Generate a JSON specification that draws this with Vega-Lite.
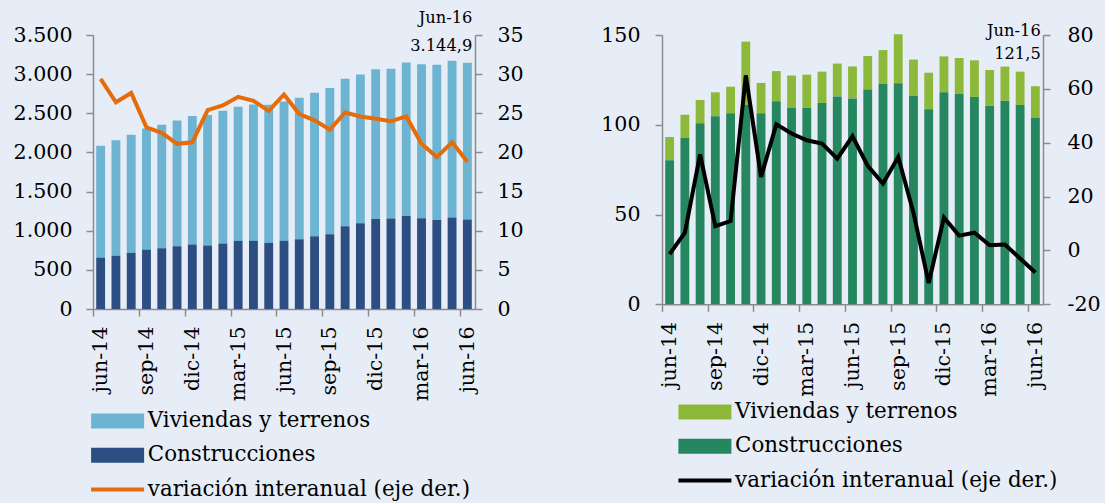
{
  "$schema": "https://vega.github.io/schema/vega-lite/v6.json",
  "background": "#E7EDF6",
  "padding": {"left": 13, "top": 9, "right": 5, "bottom": 2},
  "config": {
    "locale": {"number": {"decimal": ",", "thousands": ".", "grouping": [3], "currency": ["", " €"], "minus": "-"}},
    "font": "DejaVu Serif",
    "view": {"stroke": null},
    "axis": {
      "labelFont": "DejaVu Serif", "labelFontSize": 20.6, "labelColor": "#000",
      "domainColor": "#8C8C8C", "tickColor": "#8C8C8C", "domainWidth": 1.5, "tickWidth": 1.5,
      "grid": false, "title": null, "tickSize": 7, "labelPadding": 14
    },
    "legend": {
      "labelFont": "DejaVu Serif", "labelFontSize": 21.4, "labelColor": "#000", "labelLimit": 0,
      "labelOffset": 19.5, "rowPadding": 11.3, "title": null, "direction": "vertical", "orient": "none",
      "symbolSize": 100, "symbolOffset": 0
    }
  },
  "datasets": {
    "izq": [
      {"mes": "jun-14", "constr": 657, "viv": 1428, "var": 29.4},
      {"mes": "jul-14", "constr": 682, "viv": 1475, "var": 26.4},
      {"mes": "ago-14", "constr": 716, "viv": 1509, "var": 27.6},
      {"mes": "sep-14", "constr": 759, "viv": 1547, "var": 23.2},
      {"mes": "oct-14", "constr": 776, "viv": 1577, "var": 22.5},
      {"mes": "nov-14", "constr": 801, "viv": 1608, "var": 21.1},
      {"mes": "dic-14", "constr": 823, "viv": 1641, "var": 21.3},
      {"mes": "ene-15", "constr": 810, "viv": 1667, "var": 25.4},
      {"mes": "feb-15", "constr": 836, "viv": 1696, "var": 26.0},
      {"mes": "mar-15", "constr": 870, "viv": 1713, "var": 27.1},
      {"mes": "abr-15", "constr": 870, "viv": 1743, "var": 26.6},
      {"mes": "may-15", "constr": 844, "viv": 1765, "var": 25.3},
      {"mes": "jun-15", "constr": 870, "viv": 1782, "var": 27.4},
      {"mes": "jul-15", "constr": 891, "viv": 1807, "var": 24.9},
      {"mes": "ago-15", "constr": 929, "viv": 1833, "var": 24.1},
      {"mes": "sep-15", "constr": 955, "viv": 1867, "var": 22.9},
      {"mes": "oct-15", "constr": 1057, "viv": 1884, "var": 25.1},
      {"mes": "nov-15", "constr": 1096, "viv": 1901, "var": 24.6},
      {"mes": "dic-15", "constr": 1151, "viv": 1910, "var": 24.3},
      {"mes": "ene-16", "constr": 1155, "viv": 1914, "var": 24.0},
      {"mes": "feb-16", "constr": 1189, "viv": 1961, "var": 24.6},
      {"mes": "mar-16", "constr": 1160, "viv": 1965, "var": 21.1},
      {"mes": "abr-16", "constr": 1138, "viv": 1982, "var": 19.4},
      {"mes": "may-16", "constr": 1168, "viv": 2004, "var": 21.3},
      {"mes": "jun-16", "constr": 1143, "viv": 2001.9, "var": 18.8}
    ],
    "der": [
      {"mes": "jun-14", "constr": 80.2, "viv": 13.0, "var": -1.4},
      {"mes": "jul-14", "constr": 92.6, "viv": 13.0, "var": 6.6},
      {"mes": "ago-14", "constr": 100.8, "viv": 13.0, "var": 35.7},
      {"mes": "sep-14", "constr": 104.7, "viv": 13.4, "var": 9.0},
      {"mes": "oct-14", "constr": 106.4, "viv": 14.8, "var": 10.9},
      {"mes": "nov-14", "constr": 111.0, "viv": 35.3, "var": 65.0},
      {"mes": "dic-14", "constr": 106.4, "viv": 16.9, "var": 27.3},
      {"mes": "ene-15", "constr": 113.1, "viv": 16.8, "var": 46.8},
      {"mes": "feb-15", "constr": 109.3, "viv": 18.2, "var": 43.4},
      {"mes": "mar-15", "constr": 109.5, "viv": 18.4, "var": 40.9},
      {"mes": "abr-15", "constr": 112.1, "viv": 17.5, "var": 39.7},
      {"mes": "may-15", "constr": 115.8, "viv": 18.3, "var": 34.1},
      {"mes": "jun-15", "constr": 114.7, "viv": 17.8, "var": 42.4},
      {"mes": "jul-15", "constr": 119.6, "viv": 18.7, "var": 31.4},
      {"mes": "ago-15", "constr": 122.7, "viv": 18.9, "var": 24.8},
      {"mes": "sep-15", "constr": 123.1, "viv": 27.3, "var": 34.7},
      {"mes": "oct-15", "constr": 116.2, "viv": 20.1, "var": 14.0},
      {"mes": "nov-15", "constr": 108.6, "viv": 20.4, "var": -12.1},
      {"mes": "dic-15", "constr": 118.1, "viv": 20.0, "var": 12.2},
      {"mes": "ene-16", "constr": 117.1, "viv": 20.1, "var": 5.5},
      {"mes": "feb-16", "constr": 115.5, "viv": 20.4, "var": 6.6},
      {"mes": "mar-16", "constr": 110.5, "viv": 20.0, "var": 1.9},
      {"mes": "abr-16", "constr": 113.4, "viv": 19.0, "var": 2.2},
      {"mes": "may-16", "constr": 111.0, "viv": 18.6, "var": -3.0},
      {"mes": "jun-16", "constr": 104.1, "viv": 17.4, "var": -8.2}
    ],
    "notaIzq": [{"mes": "jun-16", "valor": 3144.9, "etiqueta": "Jun-16|3.144,9"}],
    "notaDer": [{"mes": "jun-16", "valor": 121.5, "etiqueta": "Jun-16|121,5"}]
  },
  "bounds": "flush",
  "spacing": 187,
  "hconcat": [
    {
      "width": 382,
      "height": 274,
      "layer": [
        {
          "data": {"name": "izq"},
          "transform": [{"fold": ["viv", "constr"], "as": ["serie", "valor"]}],
          "mark": {"type": "bar"},
          "encoding": {
            "x": {"field": "mes", "type": "ordinal", "sort": null,
              "scale": {"paddingInner": 0.42, "paddingOuter": 0.21},
              "axis": {"values": ["jun-14","sep-14","dic-14","mar-15","jun-15","sep-15","dic-15","mar-16","jun-16"],
                "labelAngle": -90, "tickOffset": -7.64, "labelOffset": 7.64, "labelPadding": 10}},
            "y": {"field": "valor", "type": "quantitative", "stack": "zero",
              "scale": {"domain": [0, 3500]},
              "axis": {"orient": "left", "values": [0,500,1000,1500,2000,2500,3000,3500], "format": ",d"}},
            "color": {"field": "serie", "type": "nominal",
              "scale": {"domain": ["viv", "constr", "var"], "range": ["#6CB4D1", "#2D4E82", "#E46C0A"]},
              "legend": {
                "legendX": 13.9, "legendY": 375.3,
                "labelExpr": "datum.value === 'viv' ? 'Viviendas y terrenos' : datum.value === 'constr' ? 'Construcciones' : 'variación interanual (eje der.)'",
                "symbolType": "M-5.3,-1.5L5.3,-1.5L5.3,1.5L-5.3,1.5Z",
                "encode": {"symbols": {"update": {
                  "shape": {"signal": "datum.value === 'var' ? 'M-5.3,0L5.3,0' : 'M-5.3,-1.5L5.3,-1.5L5.3,1.5L-5.3,1.5Z'"},
                  "stroke": {"signal": "datum.value === 'var' ? '#E46C0A' : 'transparent'"},
                  "strokeWidth": {"signal": "datum.value === 'var' ? 4 : 0"}
                }}}
              }},
            "order": {"field": "serie", "sort": "ascending"}
          }
        },
        {
          "data": {"name": "izq"},
          "mark": {"type": "line", "strokeWidth": 4},
          "encoding": {
            "x": {"field": "mes", "type": "ordinal", "sort": null},
            "y": {"field": "var", "type": "quantitative", "scale": {"domain": [0, 35]},
              "axis": {"orient": "right", "values": [0,5,10,15,20,25,30,35], "labelPadding": 15}},
            "color": {"datum": "var"}
          }
        },
        {
          "data": {"name": "notaIzq"},
          "mark": {"type": "text", "align": "right", "baseline": "bottom", "lineBreak": "|",
            "fontSize": 16.3, "lineHeight": 28, "dx": 5, "dy": -37, "font": "DejaVu Serif", "color": "#000"},
          "encoding": {
            "x": {"field": "mes", "type": "ordinal", "sort": null},
            "y": {"field": "valor", "type": "quantitative", "scale": {"domain": [0, 3500]}, "axis": null},
            "text": {"field": "etiqueta"}
          }
        }
      ],
      "resolve": {"scale": {"y": "independent"}}
    },
    {
      "width": 381,
      "height": 269.3,
      "layer": [
        {
          "data": {"name": "der"},
          "transform": [{"fold": ["viv", "constr"], "as": ["serie", "valor"]}],
          "mark": {"type": "bar"},
          "encoding": {
            "x": {"field": "mes", "type": "ordinal", "sort": null,
              "scale": {"paddingInner": 0.42, "paddingOuter": 0.21},
              "axis": {"values": ["jun-14","sep-14","dic-14","mar-15","jun-15","sep-15","dic-15","mar-16","jun-16"],
                "labelAngle": -90, "tickOffset": -7.62, "labelOffset": 7.62, "labelPadding": 10}},
            "y": {"field": "valor", "type": "quantitative", "stack": "zero",
              "scale": {"domain": [0, 150]},
              "axis": {"orient": "left", "values": [0,50,100,150], "labelPadding": 15}},
            "color": {"field": "serie", "type": "nominal",
              "scale": {"domain": ["viv", "constr", "var"], "range": ["#8DB93B", "#268660", "#000000"]},
              "legend": {
                "legendX": 32.2, "legendY": 366.3,
                "labelExpr": "datum.value === 'viv' ? 'Viviendas y terrenos' : datum.value === 'constr' ? 'Construcciones' : 'variación interanual (eje der.)'",
                "symbolType": "M-5.3,-1.5L5.3,-1.5L5.3,1.5L-5.3,1.5Z",
                "encode": {"symbols": {"update": {
                  "shape": {"signal": "datum.value === 'var' ? 'M-5.3,0L5.3,0' : 'M-5.3,-1.5L5.3,-1.5L5.3,1.5L-5.3,1.5Z'"},
                  "stroke": {"signal": "datum.value === 'var' ? '#000000' : 'transparent'"},
                  "strokeWidth": {"signal": "datum.value === 'var' ? 4 : 0"}
                }}}
              }},
            "order": {"field": "serie", "sort": "ascending"}
          }
        },
        {
          "data": {"name": "der"},
          "mark": {"type": "line", "strokeWidth": 4},
          "encoding": {
            "x": {"field": "mes", "type": "ordinal", "sort": null},
            "y": {"field": "var", "type": "quantitative", "scale": {"domain": [-20, 80]},
              "axis": {"orient": "right", "values": [-20,0,20,40,60,80], "labelPadding": 17}},
            "color": {"datum": "var"}
          }
        },
        {
          "data": {"name": "notaDer"},
          "mark": {"type": "text", "align": "right", "baseline": "bottom", "lineBreak": "|",
            "fontSize": 16.3, "lineHeight": 23, "dx": 5.4, "dy": -47.5, "font": "DejaVu Serif", "color": "#000"},
          "encoding": {
            "x": {"field": "mes", "type": "ordinal", "sort": null},
            "y": {"field": "valor", "type": "quantitative", "scale": {"domain": [0, 150]}, "axis": null},
            "text": {"field": "etiqueta"}
          }
        }
      ],
      "resolve": {"scale": {"y": "independent"}}
    }
  ],
  "resolve": {"scale": {"color": "independent"}, "legend": {"color": "independent"}}
}
